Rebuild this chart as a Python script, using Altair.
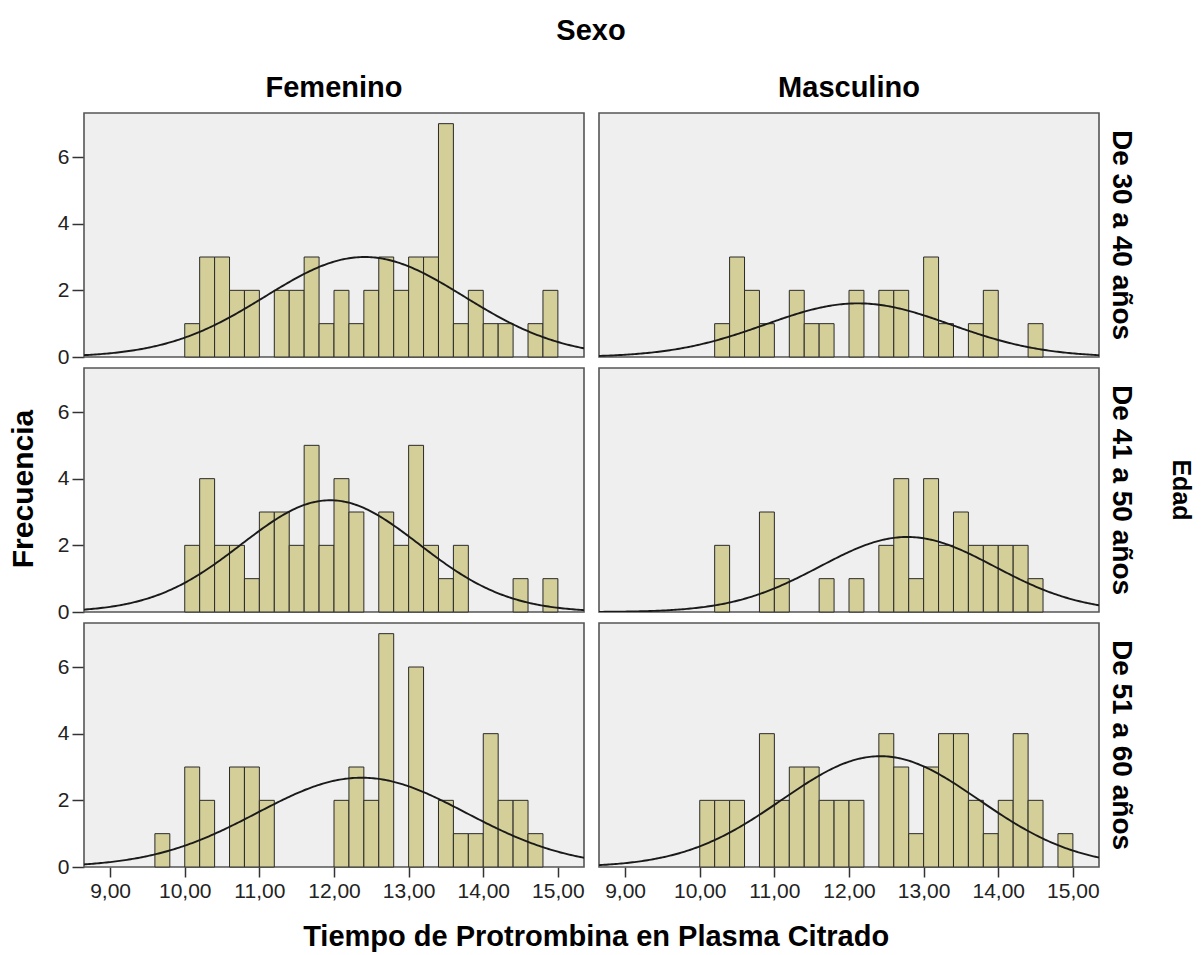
import altair as alt
import pandas as pd

# Facet categories
SEXO = ["Femenino", "Masculino"]
EDAD = ["De 30 a 40 años", "De 41 a 50 años", "De 51 a 60 años"]

# Histogram bins (lower edges), width 0.2 s
BIN_LO = [9.6, 9.8, 10.0, 10.2, 10.4, 10.6, 10.8, 11.0, 11.2, 11.4, 11.6, 11.8,
          12.0, 12.2, 12.4, 12.6, 12.8, 13.0, 13.2, 13.4, 13.6, 13.8, 14.0, 14.2,
          14.4, 14.6, 14.8]
BIN_WIDTH = 0.2

# Frequencies per bin for each Sexo x Edad cell
FEM_30_40 = [0, 0, 1, 3, 3, 2, 2, 0, 2, 2, 3, 1, 2, 1, 2, 3, 2, 3, 3, 7, 1, 2, 1, 1, 0, 1, 2]
MAS_30_40 = [0, 0, 0, 1, 3, 2, 1, 0, 2, 1, 1, 0, 2, 0, 2, 2, 0, 3, 1, 0, 1, 2, 0, 0, 1, 0, 0]
FEM_41_50 = [0, 0, 2, 4, 2, 2, 1, 3, 3, 2, 5, 2, 4, 3, 0, 3, 2, 5, 2, 1, 2, 0, 0, 0, 1, 0, 1]
MAS_41_50 = [0, 0, 0, 2, 0, 0, 3, 1, 0, 0, 1, 0, 1, 0, 2, 4, 1, 4, 2, 3, 2, 2, 2, 2, 1, 0, 0]
FEM_51_60 = [1, 0, 3, 2, 0, 3, 3, 2, 0, 0, 0, 0, 2, 3, 2, 7, 0, 6, 0, 2, 1, 1, 4, 2, 2, 1, 0]
MAS_51_60 = [0, 0, 2, 2, 2, 0, 4, 2, 3, 3, 2, 2, 2, 0, 4, 3, 1, 3, 4, 4, 2, 1, 2, 4, 2, 0, 1]

PANELS = [
    ("Femenino", "De 30 a 40 años", FEM_30_40),
    ("Masculino", "De 30 a 40 años", MAS_30_40),
    ("Femenino", "De 41 a 50 años", FEM_41_50),
    ("Masculino", "De 41 a 50 años", MAS_41_50),
    ("Femenino", "De 51 a 60 años", FEM_51_60),
    ("Masculino", "De 51 a 60 años", MAS_51_60),
]

# Normal curve parameters (mean, standard deviation) per cell, same order as PANELS
CURVE_MEAN = [12.41, 12.12, 11.95, 12.78, 12.37, 12.42]
CURVE_SD = [1.33, 1.24, 1.19, 1.17, 1.40, 1.32]

X_DOMAIN = [8.65, 15.35]
Y_DOMAIN = [0, 7.32]
X_TICKS = [9, 10, 11, 12, 13, 14, 15]
Y_TICKS = [0, 2, 4, 6]

rows = []
for (sexo, edad, counts), mu, sd in zip(PANELS, CURVE_MEAN, CURVE_SD):
    for lo, c in zip(BIN_LO, counts):
        if c:
            rows.append({"kind": "bar", "sexo": sexo, "edad": edad,
                         "lo": lo, "hi": round(lo + BIN_WIDTH, 2), "count": c})
    rows.append({"kind": "curve", "sexo": sexo, "edad": edad,
                 "mean": mu, "sd": sd, "n": sum(counts)})
df = pd.DataFrame(rows)

FONT = "Liberation Sans"
x_scale = alt.Scale(domain=X_DOMAIN, nice=False, zero=False)
y_scale = alt.Scale(domain=Y_DOMAIN, nice=False)
x_axis = alt.Axis(title=None, values=X_TICKS, grid=False, domain=False,
                  labelExpr="replace(format(datum.value, '.2f'), '.', ',')",
                  tickSize=10, tickColor="#333333", tickWidth=1.5,
                  labelFontSize=21, labelColor="#222222", labelPadding=3)
y_axis = alt.Axis(title=None, values=Y_TICKS, grid=False, domain=False,
                  tickSize=12, tickColor="#333333", tickWidth=1.5,
                  labelFontSize=21, labelColor="#222222", labelPadding=3)

bars = alt.Chart().transform_filter("datum.kind === 'bar'").mark_bar(
    fill="#D4CF98", stroke="#2a2a2a", strokeWidth=1
).encode(
    x=alt.X("lo:Q", scale=x_scale, axis=x_axis),
    x2="hi:Q",
    y=alt.Y("count:Q", scale=y_scale, axis=y_axis),
    y2=alt.datum(0),
)

curve = alt.Chart().transform_filter("datum.kind === 'curve'").transform_calculate(
    xs=f"sequence({X_DOMAIN[0]}, {X_DOMAIN[1] + 0.001}, 0.025)"
).transform_flatten(["xs"]).transform_calculate(
    dens=f"datum.n * {BIN_WIDTH} * exp(-0.5 * pow((datum.xs - datum.mean) / datum.sd, 2))"
         " / (datum.sd * sqrt(2 * PI))"
).mark_line(color="#1a1a1a", strokeWidth=1.9, clip=True).encode(
    x=alt.X("xs:Q", scale=x_scale, axis=x_axis),
    y=alt.Y("dens:Q", scale=y_scale, axis=y_axis),
)

panel = alt.layer(bars, curve, data=df).properties(width=500, height=244)

grid = panel.facet(
    column=alt.Column("sexo:N", sort=SEXO, title="Sexo", header=alt.Header(
        labelFontSize=29, labelFontWeight="bold", labelColor="black", labelFont=FONT,
        titleFontSize=29, titleFontWeight="bold", titleColor="black", titleFont=FONT,
        labelPadding=10, titlePadding=18)),
    row=alt.Row("edad:N", sort=EDAD, title="Edad", header=alt.Header(
        labelOrient="right", titleOrient="right", labelAngle=90, titleAngle=90,
        labelFontSize=28, labelFontWeight="bold", labelColor="black", labelFont=FONT,
        titleFontSize=25, titleFontWeight="bold", titleColor="black", titleFont=FONT,
        labelPadding=8, titlePadding=23)),
    spacing={"row": 11, "column": 15},
    bounds="flush",
).properties(
    title=alt.TitleParams("Frecuencia", orient="left", anchor="middle",
                          fontSize=30, fontWeight="bold", font=FONT, color="black",
                          offset=18, dx=-30)
)

chart = alt.vconcat(grid).properties(
    title=alt.TitleParams("Tiempo de Protrombina en Plasma Citrado", orient="bottom",
                          anchor="middle", fontSize=29, fontWeight="bold", font=FONT,
                          color="black", offset=22, dx=-5),
    padding={"left": 9, "top": 17, "right": 0, "bottom": 0},
).configure(font=FONT).configure_view(
    fill="#EFEFEF", stroke="#555555", strokeWidth=1.6
).configure_axis(labelFont=FONT)

chart.save("out.html", embed_options={"renderer": "svg", "actions": False})
